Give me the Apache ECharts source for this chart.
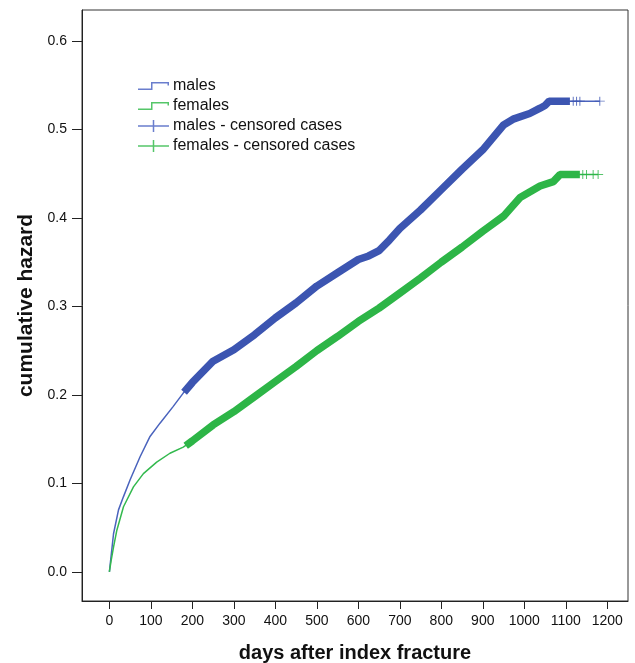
<!DOCTYPE html>
<html>
<head>
<meta charset="utf-8">
<script src="https://cdn.jsdelivr.net/npm/echarts@6/dist/echarts.min.js"></script>
<style>
html,body{margin:0;padding:0;background:#fff;}
#chart{width:635px;height:663px;}
</style>
</head>
<body>
<div id="chart"></div>
<script>
// ---- data ----
const xTicks = [0, 100, 200, 300, 400, 500, 600, 700, 800, 900, 1000, 1100, 1200];
const yTicks = [0.0, 0.1, 0.2, 0.3, 0.4, 0.5, 0.6];

const maleDays   = [0, 3, 10, 22, 34, 50, 74, 98, 122, 154, 178, 200, 250, 300, 350, 400, 450, 500, 550, 600, 625, 650, 675, 700, 750, 800, 850, 900, 950, 975, 1013, 1038, 1050, 1060, 1100, 1182];
const maleHazard = [0, 0.013, 0.043, 0.070, 0.085, 0.104, 0.130, 0.153, 0.168, 0.187, 0.202, 0.214, 0.238, 0.251, 0.268, 0.287, 0.304, 0.323, 0.338, 0.353, 0.357, 0.363, 0.375, 0.388, 0.409, 0.432, 0.455, 0.477, 0.505, 0.512, 0.518, 0.524, 0.527, 0.532, 0.532, 0.532];

const femaleDays   = [0, 4, 10, 18, 34, 58, 82, 114, 146, 178, 200, 250, 300, 350, 400, 450, 500, 550, 600, 650, 700, 750, 800, 850, 900, 950, 990, 1038, 1070, 1086, 1178];
const femaleHazard = [0, 0.012, 0.028, 0.047, 0.0735, 0.096, 0.111, 0.124, 0.134, 0.141, 0.148, 0.166, 0.181, 0.198, 0.215, 0.232, 0.250, 0.266, 0.283, 0.298, 0.315, 0.332, 0.350, 0.367, 0.385, 0.402, 0.423, 0.436, 0.441, 0.449, 0.449];

// dense censoring (appears as a thick band) and the sparse censored marks at the end
const maleCensDays   = [180, 200, 250, 300, 350, 400, 450, 500, 550, 600, 625, 650, 675, 700, 750, 800, 850, 900, 950, 975, 1013, 1038, 1050, 1060, 1110];
const maleCensHazard = [0.203, 0.214, 0.238, 0.251, 0.268, 0.287, 0.304, 0.323, 0.338, 0.353, 0.357, 0.363, 0.375, 0.388, 0.409, 0.432, 0.455, 0.477, 0.505, 0.512, 0.518, 0.524, 0.527, 0.532, 0.532];
const maleCensEndDays   = [1118, 1126, 1134, 1182];
const maleCensEndHazard = [0.532, 0.532, 0.532, 0.532];

const femaleCensDays   = [184, 200, 250, 300, 350, 400, 450, 500, 550, 600, 650, 700, 750, 800, 850, 900, 950, 990, 1038, 1070, 1086, 1134];
const femaleCensHazard = [0.1425, 0.148, 0.166, 0.181, 0.198, 0.215, 0.232, 0.250, 0.266, 0.283, 0.298, 0.315, 0.332, 0.350, 0.367, 0.385, 0.402, 0.423, 0.436, 0.441, 0.449, 0.449];
const femaleCensEndDays   = [1141, 1150, 1166, 1178];
const femaleCensEndHazard = [0.449, 0.449, 0.449, 0.449];

// ---- styling ----
const BLUE_LINE = '#4a63bd', BLUE_BAND = '#3c55b1', BLUE_ICON = '#6a7ecd';
const GREEN_LINE = '#33b94e', GREEN_BAND = '#2db547', GREEN_ICON = '#55c669';
const FONT = 'Liberation Sans, Arial, sans-serif';

const zip = (xs, ys) => xs.map((x, i) => [x, ys[i]]);

const stepIcon = 'path://M0,6.5 L13,6.5 L13,0 L31,0 L31,3.5 L29.5,3.5 L29.5,1.5 L14.5,1.5 L14.5,8 L0,8 Z';
const crossIcon = 'path://M0,5.25 L14.75,5.25 L14.75,0 L16.25,0 L16.25,5.25 L31,5.25 L31,6.75 L16.25,6.75 L16.25,12 L14.75,12 L14.75,6.75 L0,6.75 Z';
const crossMark = 'path://M0,4.5 L4.5,4.5 L4.5,0 L5.5,0 L5.5,4.5 L10,4.5 L10,5.5 L5.5,5.5 L5.5,10 L4.5,10 L4.5,5.5 L0,5.5 Z';

const chart = echarts.init(document.getElementById('chart'), null, {renderer: 'canvas'});

chart.setOption({
  animation: false,
  backgroundColor: '#fff',
  grid: {
    left: 82, top: 10, right: 7, bottom: 62,
    containLabel: false, outerBoundsMode: 'none',
    show: true, borderColor: '#333', borderWidth: 1, backgroundColor: 'transparent'
  },
  legend: {
    left: 133, top: 73, orient: 'vertical',
    itemWidth: 31, itemHeight: 12, itemGap: 4,
    textStyle: {fontFamily: FONT, fontSize: 16, color: '#111', padding: [0, 0, 0, -1]},
    data: [
      {name: 'males', icon: stepIcon, itemStyle: {color: BLUE_ICON}},
      {name: 'females', icon: stepIcon, itemStyle: {color: GREEN_ICON}},
      {name: 'males - censored cases', icon: crossIcon, itemStyle: {color: BLUE_ICON}},
      {name: 'females - censored cases', icon: crossIcon, itemStyle: {color: GREEN_ICON}}
    ]
  },
  xAxis: {
    type: 'value', min: -66, max: 1250,
    name: 'days after index fracture', nameLocation: 'middle', nameGap: 42,
    nameTextStyle: {fontFamily: FONT, fontSize: 20, fontWeight: 'bold', color: '#111'},
    splitLine: {show: false},
    axisLine: {show: true, onZero: false, lineStyle: {color: '#222', width: 1}},
    axisTick: {show: true, length: 8, customValues: xTicks, lineStyle: {color: '#222'}},
    axisLabel: {customValues: xTicks, margin: 13, fontFamily: FONT, fontSize: 14, color: '#111',
      formatter: v => String(v)}
  },
  yAxis: {
    type: 'value', min: -0.033, max: 0.635,
    name: 'cumulative hazard', nameLocation: 'middle', nameGap: 41,
    nameTextStyle: {fontFamily: FONT, fontSize: 21, fontWeight: 'bold', color: '#111'},
    splitLine: {show: false},
    axisLine: {show: true, onZero: false, lineStyle: {color: '#222', width: 1}},
    axisTick: {show: true, length: 10, customValues: yTicks, lineStyle: {color: '#222'}},
    axisLabel: {customValues: yTicks, margin: 15, fontFamily: FONT, fontSize: 14, color: '#111',
      formatter: v => v.toFixed(1)}
  },
  series: [
    {name: 'males', type: 'line', data: zip(maleDays, maleHazard), showSymbol: false, symbol: 'none',
      lineStyle: {color: BLUE_LINE, width: 1.5}, itemStyle: {color: BLUE_LINE}, z: 2},
    {name: 'females', type: 'line', data: zip(femaleDays, femaleHazard), showSymbol: false, symbol: 'none',
      lineStyle: {color: GREEN_LINE, width: 1.5}, itemStyle: {color: GREEN_LINE}, z: 2},
    {name: 'males - censored cases', type: 'line', data: zip(maleCensDays, maleCensHazard), showSymbol: false, symbol: 'none',
      lineStyle: {color: BLUE_BAND, width: 7.5}, itemStyle: {color: BLUE_BAND}, z: 3},
    {name: 'males - censored cases', type: 'scatter', data: zip(maleCensEndDays, maleCensEndHazard),
      symbol: crossMark, symbolSize: [10, 9], itemStyle: {color: BLUE_BAND}, z: 3},
    {name: 'females - censored cases', type: 'line', data: zip(femaleCensDays, femaleCensHazard), showSymbol: false, symbol: 'none',
      lineStyle: {color: GREEN_BAND, width: 7.5}, itemStyle: {color: GREEN_BAND}, z: 3},
    {name: 'females - censored cases', type: 'scatter', data: zip(femaleCensEndDays, femaleCensEndHazard),
      symbol: crossMark, symbolSize: [10, 9], itemStyle: {color: GREEN_BAND}, z: 3}
  ]
});
</script>
</body>
</html>
